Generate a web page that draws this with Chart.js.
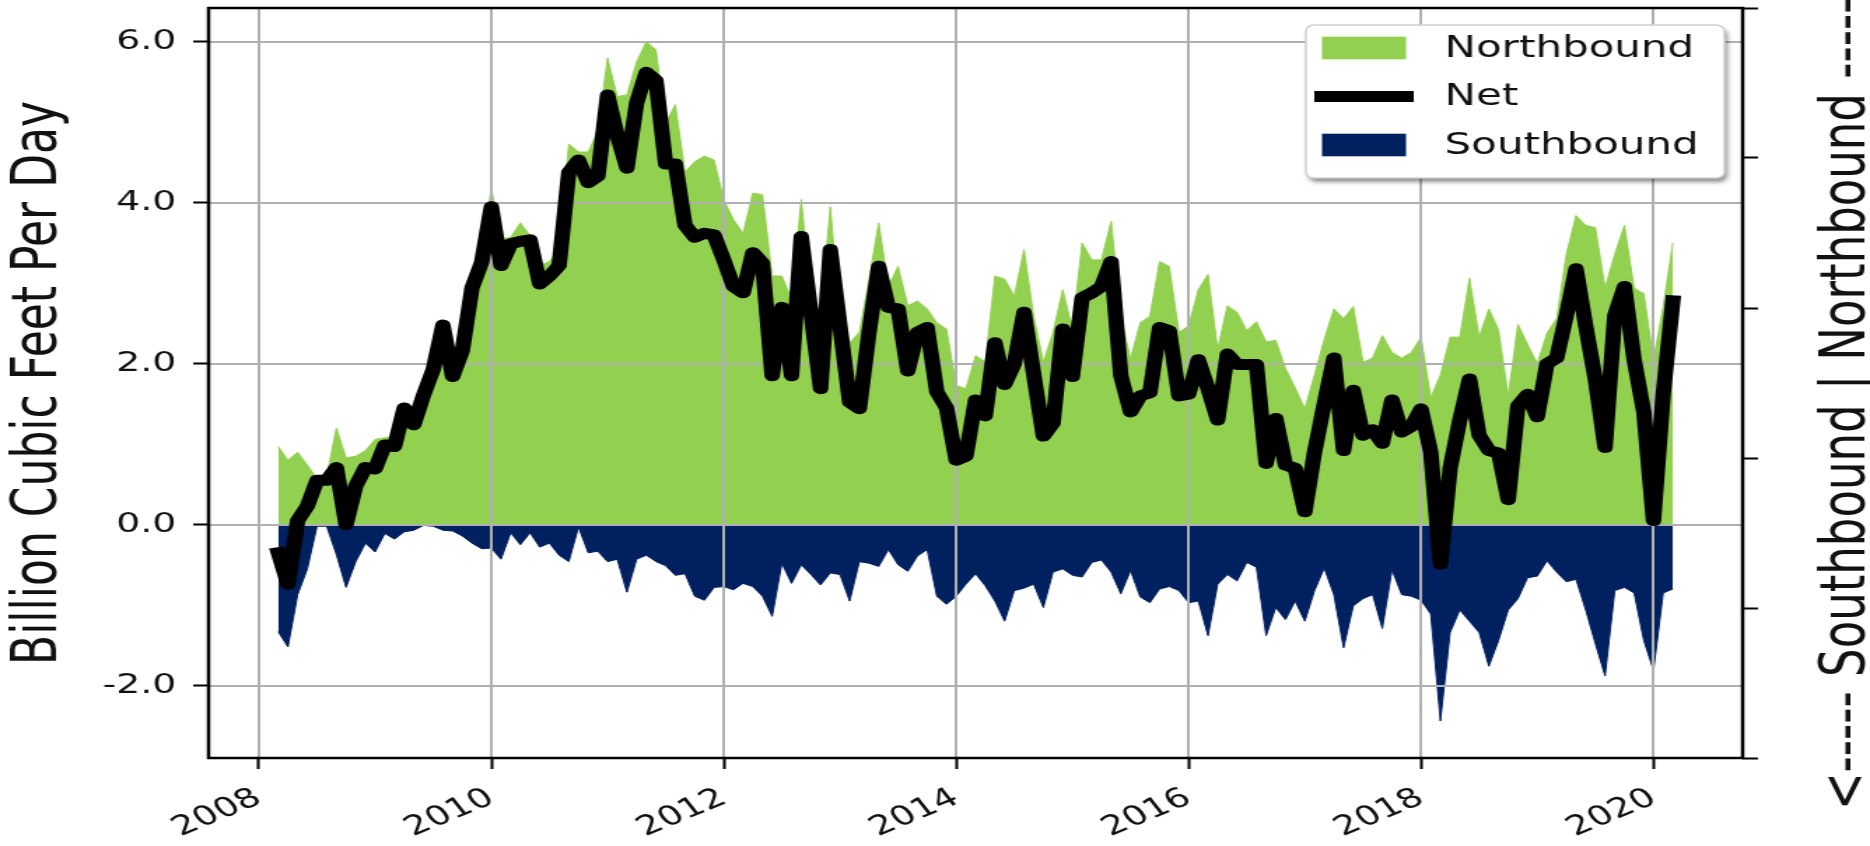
<!DOCTYPE html>
<html>
<head>
<meta charset="utf-8">
<title>Northbound / Southbound flows</title>
<script src="https://cdn.jsdelivr.net/npm/chart.js@4.4.1/dist/chart.umd.min.js"></script>
<style>
  html, body { margin: 0; padding: 0; background: #fff; overflow: hidden; }
  /* the reference picture is stretched sideways, so the canvas is drawn narrow and widened by CSS */
  #chart { display: block; width: 1870px !important; height: 846px !important; }
</style>
</head>
<body>
<canvas id="chart" width="1336" height="846" style="width:1870px;height:846px"></canvas>
<script>
// --- DATA (monthly, Mar 2008 .. Mar 2020, Bcf/d) ---
const firstYear = 2008;
const firstMonth = 3;

const northbound = [
  0.97, 0.80, 0.90, 0.74, 0.57, 0.60, 1.20, 0.83, 0.85, 0.92,
  1.06, 1.08, 1.10, 1.47, 1.33, 1.66, 1.98, 2.53, 2.05, 2.25,
  2.99, 3.31, 4.18, 3.55, 3.57, 3.75, 3.59, 3.22, 3.27, 3.42,
  4.73, 4.63, 4.63, 4.89, 5.80, 5.32, 5.34, 5.75, 6.00, 5.90,
  4.99, 5.22, 4.38, 4.51, 4.58, 4.53, 4.04, 3.79, 3.62, 4.12,
  4.10, 3.09, 3.09, 2.80, 4.04, 2.84, 2.60, 3.95, 2.59, 2.26,
  2.39, 3.05, 3.75, 2.96, 3.21, 2.72, 2.78, 2.68, 2.51, 2.43,
  1.73, 1.69, 2.10, 2.02, 3.09, 3.05, 2.84, 3.42, 2.59, 2.02,
  2.39, 2.92, 2.43, 3.50, 3.29, 3.29, 3.77, 2.59, 2.06, 2.51,
  2.59, 3.27, 3.21, 2.39, 2.47, 2.92, 3.11, 2.18, 2.72, 2.64,
  2.41, 2.52, 2.27, 2.29, 1.94, 1.70, 1.44, 1.86, 2.30, 2.68,
  2.56, 2.71, 2.02, 2.07, 2.35, 2.14, 2.07, 2.14, 2.33, 1.58,
  1.86, 2.33, 2.33, 3.06, 2.33, 2.68, 2.42, 1.60, 2.49, 2.24,
  2.00, 2.38, 2.56, 3.36, 3.84, 3.72, 3.69, 2.94, 3.36, 3.72,
  2.94, 2.87, 2.05, 2.71, 3.50
];

const net = [
  -0.35, -0.74, 0.05, 0.23, 0.55, 0.55, 0.71, 0.00, 0.48, 0.71,
  0.69, 0.99, 0.97, 1.45, 1.24, 1.61, 1.93, 2.48, 1.84, 2.16,
  2.94, 3.26, 3.95, 3.22, 3.49, 3.52, 3.54, 2.99, 3.09, 3.22,
  4.38, 4.53, 4.25, 4.33, 5.34, 4.84, 4.43, 5.24, 5.62, 5.52,
  4.48, 4.48, 3.72, 3.57, 3.62, 3.60, 3.29, 2.96, 2.88, 3.38,
  3.25, 1.85, 2.70, 1.85, 3.58, 2.64, 1.69, 3.42, 2.47, 1.52,
  1.44, 2.39, 3.21, 2.70, 2.68, 1.91, 2.39, 2.45, 1.65, 1.45,
  0.80, 0.85, 1.55, 1.35, 2.26, 1.74, 2.00, 2.64, 1.87, 1.10,
  1.26, 2.43, 1.84, 2.82, 2.88, 2.96, 3.27, 1.85, 1.40, 1.60,
  1.64, 2.45, 2.41, 1.60, 1.62, 2.05, 1.69, 1.30, 2.12, 1.99,
  1.99, 1.99, 0.76, 1.32, 0.74, 0.70, 0.16, 0.90, 1.50, 2.07,
  0.92, 1.67, 1.11, 1.18, 1.01, 1.55, 1.15, 1.22, 1.44, 0.90,
  -0.49, 0.70, 1.30, 1.81, 1.11, 0.92, 0.89, 0.31, 1.48, 1.62,
  1.34, 2.00, 2.07, 2.60, 3.18, 2.47, 1.80, 0.96, 2.60, 2.96,
  2.05, 1.40, 0.05, 1.62, 2.78
];

const southbound = [
  -1.33, -1.52, -0.87, -0.55, -0.02, -0.02, -0.37, -0.78, -0.46, -0.23,
  -0.34, -0.11, -0.18, -0.09, -0.07, -0.01, -0.02, -0.07, -0.08, -0.14,
  -0.23, -0.30, -0.29, -0.43, -0.10, -0.25, -0.10, -0.28, -0.23, -0.38,
  -0.46, -0.03, -0.35, -0.33, -0.46, -0.43, -0.84, -0.43, -0.38, -0.46,
  -0.51, -0.63, -0.61, -0.89, -0.94, -0.78, -0.77, -0.81, -0.73, -0.77,
  -0.89, -1.14, -0.48, -0.73, -0.50, -0.62, -0.75, -0.60, -0.62, -0.95,
  -0.46, -0.48, -0.52, -0.31, -0.50, -0.58, -0.39, -0.31, -0.89, -0.99,
  -0.89, -0.74, -0.61, -0.76, -0.95, -1.20, -0.82, -0.79, -0.74, -1.03,
  -0.59, -0.55, -0.63, -0.65, -0.47, -0.44, -0.59, -0.86, -0.57, -0.90,
  -0.97, -0.80, -0.77, -0.82, -0.97, -0.95, -1.38, -0.74, -0.62, -0.70,
  -0.47, -0.53, -1.38, -1.03, -1.18, -0.95, -1.20, -0.82, -0.54, -0.87,
  -1.53, -1.01, -0.92, -0.87, -1.29, -0.56, -0.87, -0.89, -0.94, -1.11,
  -2.44, -1.34, -1.06, -1.20, -1.34, -1.76, -1.44, -1.06, -0.92, -0.66,
  -0.64, -0.45, -0.59, -0.71, -0.68, -1.06, -1.48, -1.88, -0.82, -0.78,
  -0.85, -1.44, -1.81, -0.85, -0.80
];

const xTicks = [2008, 2010, 2012, 2014, 2016, 2018, 2020];
const xTickLabels = ['2008', '2010', '2012', '2014', '2016', '2018', '2020'];
const yTicks = [-2, 0, 2, 4, 6];
const yTickLabels = ['-2.0', '0.0', '2.0', '4.0', '6.0'];
const rightTicks = [0, 0.2, 0.4, 0.6, 0.8, 1.0];
const seriesNames = ['Northbound', 'Net', 'Southbound'];
const leftTitle = 'Billion Cubic Feet Per Day';
const rightTitle = '<----- Southbound | Northbound ----->';

// decimal-year position of each month
const months = northbound.map((_, i) => firstYear + (firstMonth - 1 + i) / 12);

// --- STYLE ---
const GREEN = '#92D050';
const NAVY = '#002060';
const GRID = '#b0b0b0';
const FONT = 'DejaVu Sans';
Chart.defaults.font.family = FONT;
Chart.defaults.color = '#111';

const toPoints = vals => vals.map((v, i) => ({ x: months[i], y: v }));

// keep the plot box where it is: no extra room for half labels
function noPad(s) { s.paddingTop = 0; s.paddingBottom = 0; s.paddingLeft = 0; s.paddingRight = 0; }

// grid goes over the fills but under the net line, like the original
const gridPlugin = {
  id: 'gridUnderNet',
  beforeDatasetDraw(chart, args) {
    if (args.index !== 1) return;
    const { ctx, chartArea: ca, scales } = chart;
    ctx.save();
    ctx.strokeStyle = GRID;
    ctx.lineWidth = 2;
    ctx.beginPath();
    xTicks.forEach(v => {
      const x = Math.round(scales.x.getPixelForValue(v));
      ctx.moveTo(x, ca.top); ctx.lineTo(x, ca.bottom);
    });
    yTicks.forEach(v => {
      const y = Math.round(scales.y.getPixelForValue(v));
      ctx.moveTo(ca.left, y); ctx.lineTo(ca.right, y);
    });
    ctx.stroke();
    ctx.restore();
  }
};

const framePlugin = {
  id: 'frameAndLegend',
  afterDatasetsDraw(chart) {
    const { ctx, chartArea: ca } = chart;
    ctx.save();
    ctx.strokeStyle = '#000';
    ctx.lineWidth = 2.5;
    ctx.strokeRect(ca.left, ca.top, ca.right - ca.left, ca.bottom - ca.top);

    // legend box, top right
    const w = 299, h = 153;
    const x0 = ca.right - 13 - w, y0 = ca.top + 17;
    ctx.shadowColor = 'rgba(0,0,0,0.45)';
    ctx.shadowBlur = 4;
    ctx.shadowOffsetX = 2;
    ctx.shadowOffsetY = 4;
    ctx.fillStyle = '#fff';
    ctx.beginPath();
    ctx.roundRect(x0, y0, w, h, 6);
    ctx.fill();
    ctx.shadowColor = 'transparent';
    ctx.strokeStyle = '#d0d0d0';
    ctx.lineWidth = 1.5;
    ctx.stroke();

    const rows = [y0 + 23, y0 + 71.5, y0 + 120];
    const px = x0 + 11.5, pw = 60, ph = 22.6;
    ctx.fillStyle = GREEN;
    ctx.fillRect(px, rows[0] - ph / 2, pw, ph);
    ctx.fillStyle = NAVY;
    ctx.fillRect(px, rows[2] - ph / 2, pw, ph);
    ctx.strokeStyle = '#000';
    ctx.lineWidth = 11;
    ctx.lineCap = 'square';
    ctx.beginPath();
    ctx.moveTo(px, rows[1]); ctx.lineTo(px + pw, rows[1]);
    ctx.stroke();

    ctx.fillStyle = '#111';
    ctx.font = `30px "${FONT}"`;
    ctx.textAlign = 'left';
    ctx.textBaseline = 'middle';
    seriesNames.forEach((name, i) => ctx.fillText(name, x0 + 99, rows[i] + 1));
    ctx.restore();
  },
  afterDraw(chart) {
    const { ctx, chartArea: ca } = chart;
    ctx.save();
    ctx.translate(chart.width - 16, (ca.top + ca.bottom) / 2 + 2);
    ctx.rotate(-Math.PI / 2);
    ctx.fillStyle = '#111';
    ctx.font = `45px "${FONT}"`;
    ctx.textAlign = 'center';
    ctx.textBaseline = 'middle';
    ctx.fillText(rightTitle, 0, 0);
    ctx.restore();
  }
};

const tickGrid = { display: true, drawOnChartArea: false, drawTicks: true, tickLength: 11, tickColor: '#000', tickWidth: 2 };

new Chart(document.getElementById('chart'), {
  type: 'line',
  data: {
    datasets: [
      { label: seriesNames[0], data: toPoints(northbound), fill: 'origin', backgroundColor: GREEN,
        borderColor: GREEN, borderWidth: 1, pointRadius: 0, order: 2 },
      { label: seriesNames[1], data: toPoints(net), fill: false, borderColor: '#000', borderWidth: 11,
        borderJoinStyle: 'round', borderCapStyle: 'square', pointRadius: 0, order: 0 },
      { label: seriesNames[2], data: toPoints(southbound), fill: 'origin', backgroundColor: NAVY,
        borderColor: NAVY, borderWidth: 1, pointRadius: 0, order: 1 }
    ]
  },
  options: {
    responsive: false,
    animation: false,
    devicePixelRatio: 1,
    layout: { padding: { top: 8, left: 0, right: 0, bottom: 0 } },
    plugins: { legend: { display: false }, tooltip: { enabled: false } },
    scales: {
      x: {
        type: 'linear', position: 'bottom', min: 2007.567, max: 2020.767,
        afterBuildTicks: s => { s.ticks = xTicks.map(v => ({ value: v })); },
        afterFit: s => { s.height = 88; noPad(s); },
        ticks: { callback: (v, i) => xTickLabels[i], font: { size: 27 }, color: '#111',
                 minRotation: 30, maxRotation: 30, autoSkip: false, padding: 13 },
        grid: tickGrid,
        border: { display: false }
      },
      y: {
        type: 'linear', position: 'left', min: -2.9, max: 6.42,
        afterBuildTicks: s => { s.ticks = yTicks.map(v => ({ value: v })); },
        afterFit: s => { s.width = 149; noPad(s); },
        ticks: { callback: (v, i) => yTickLabels[i], font: { size: 27 }, color: '#111', padding: 12 },
        title: { display: true, text: leftTitle, font: { size: 44 }, color: '#111', padding: { top: 2, bottom: 0 } },
        grid: tickGrid,
        border: { display: false }
      },
      y2: {
        type: 'linear', position: 'right', min: 0, max: 1,
        afterBuildTicks: s => { s.ticks = rightTicks.map(v => ({ value: v })); },
        afterFit: s => { s.width = 91; noPad(s); },
        ticks: { callback: () => '' },
        grid: tickGrid,
        border: { display: false }
      }
    }
  },
  plugins: [gridPlugin, framePlugin]
});
</script>
</body>
</html>
